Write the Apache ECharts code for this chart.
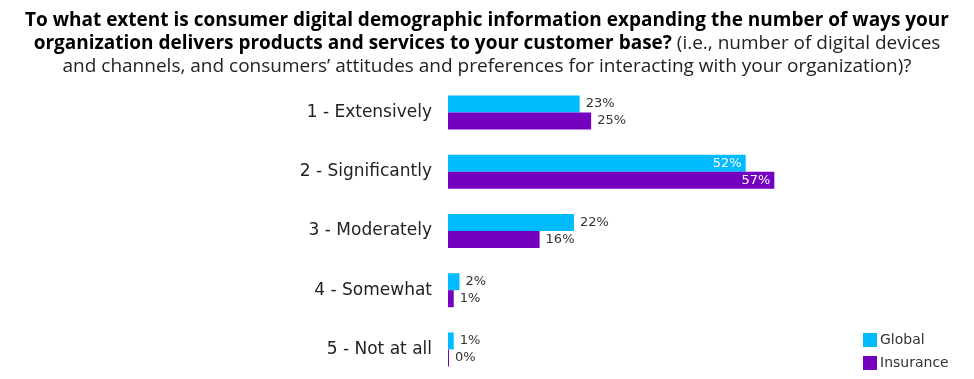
<!DOCTYPE html>
<html><head><meta charset="utf-8">
<script src="https://cdn.jsdelivr.net/npm/echarts@6/dist/echarts.min.js"></script>
<style>html,body{margin:0;padding:0;background:#fff}#c{width:974px;height:379px}</style>
</head><body><div id="c"></div>
<script>
const categories = ['1 - Extensively', '2 - Significantly', '3 - Moderately', '4 - Somewhat', '5 - Not at all'];
const globalValues = [23, 52, 22, 2, 1];
const insuranceValues = [25, 57, 16, 1, 0];
const seriesNames = ['Global', 'Insurance'];
const titleBold1 = 'To what extent is consumer digital demographic information expanding the number of ways your';
const titleBold2 = 'organization delivers products and services to your customer base?';
const titleReg2 = ' (i.e., number of digital devices';
const titleReg3 = 'and channels, and consumers\u2019 attitudes and preferences for interacting with your organization)?';

const chart = echarts.init(document.getElementById('c'));
function mkData(vals) {
  return vals.map(v => ({
    value: v,
    label: v > 40 ? {position: 'insideRight', color: '#fff', distance: 4} : {position: 'right', color: '#333', distance: 6}
  }));
}
const labelFmt = p => p.value + '%';
chart.setOption({
  animation: false,
  title: {
    left: 'center', top: 4,
    text: '{b|' + titleBold1 + '}\n{b|' + titleBold2 + '}{r|' + titleReg2 + '}\n{r|' + titleReg3 + '}',
    textStyle: {
      align: 'center',
      rich: {
        b: {fontFamily: 'Open Sans', fontWeight: 'bold', fontSize: 19, color: '#000', lineHeight: 23},
        r: {fontFamily: 'Open Sans', fontWeight: 'normal', fontSize: 19, color: '#222', lineHeight: 23}
      }
    }
  },
  legend: {
    orient: 'vertical', left: 858, top: 328,
    itemWidth: 14, itemHeight: 14, itemGap: 9, icon: 'rect',
    textStyle: {fontFamily: 'DejaVu Sans', fontSize: 14, color: '#333', padding: [0,0,0,-2]},
    data: seriesNames
  },
  grid: {left: 448, top: 83, height: 301, width: 458},
  xAxis: {type: 'value', min: 0, max: 80, show: false},
  yAxis: {
    type: 'category', data: categories, inverse: true,
    axisLine: {show: false}, axisTick: {show: false},
    axisLabel: {fontFamily: 'DejaVu Sans', fontSize: 17, color: '#222', margin: 16}
  },
  series: [
    {name: seriesNames[0], type: 'bar', data: mkData(globalValues), barWidth: 17, barGap: '0%',
     itemStyle: {color: '#00BCFF'},
     label: {show: true, formatter: labelFmt, fontFamily: 'DejaVu Sans', fontSize: 13}},
    {name: seriesNames[1], type: 'bar', data: mkData(insuranceValues), barWidth: 17, barMinHeight: 1,
     itemStyle: {color: '#7500C0'},
     label: {show: true, formatter: labelFmt, fontFamily: 'DejaVu Sans', fontSize: 13}}
  ]
});
</script></body></html>
